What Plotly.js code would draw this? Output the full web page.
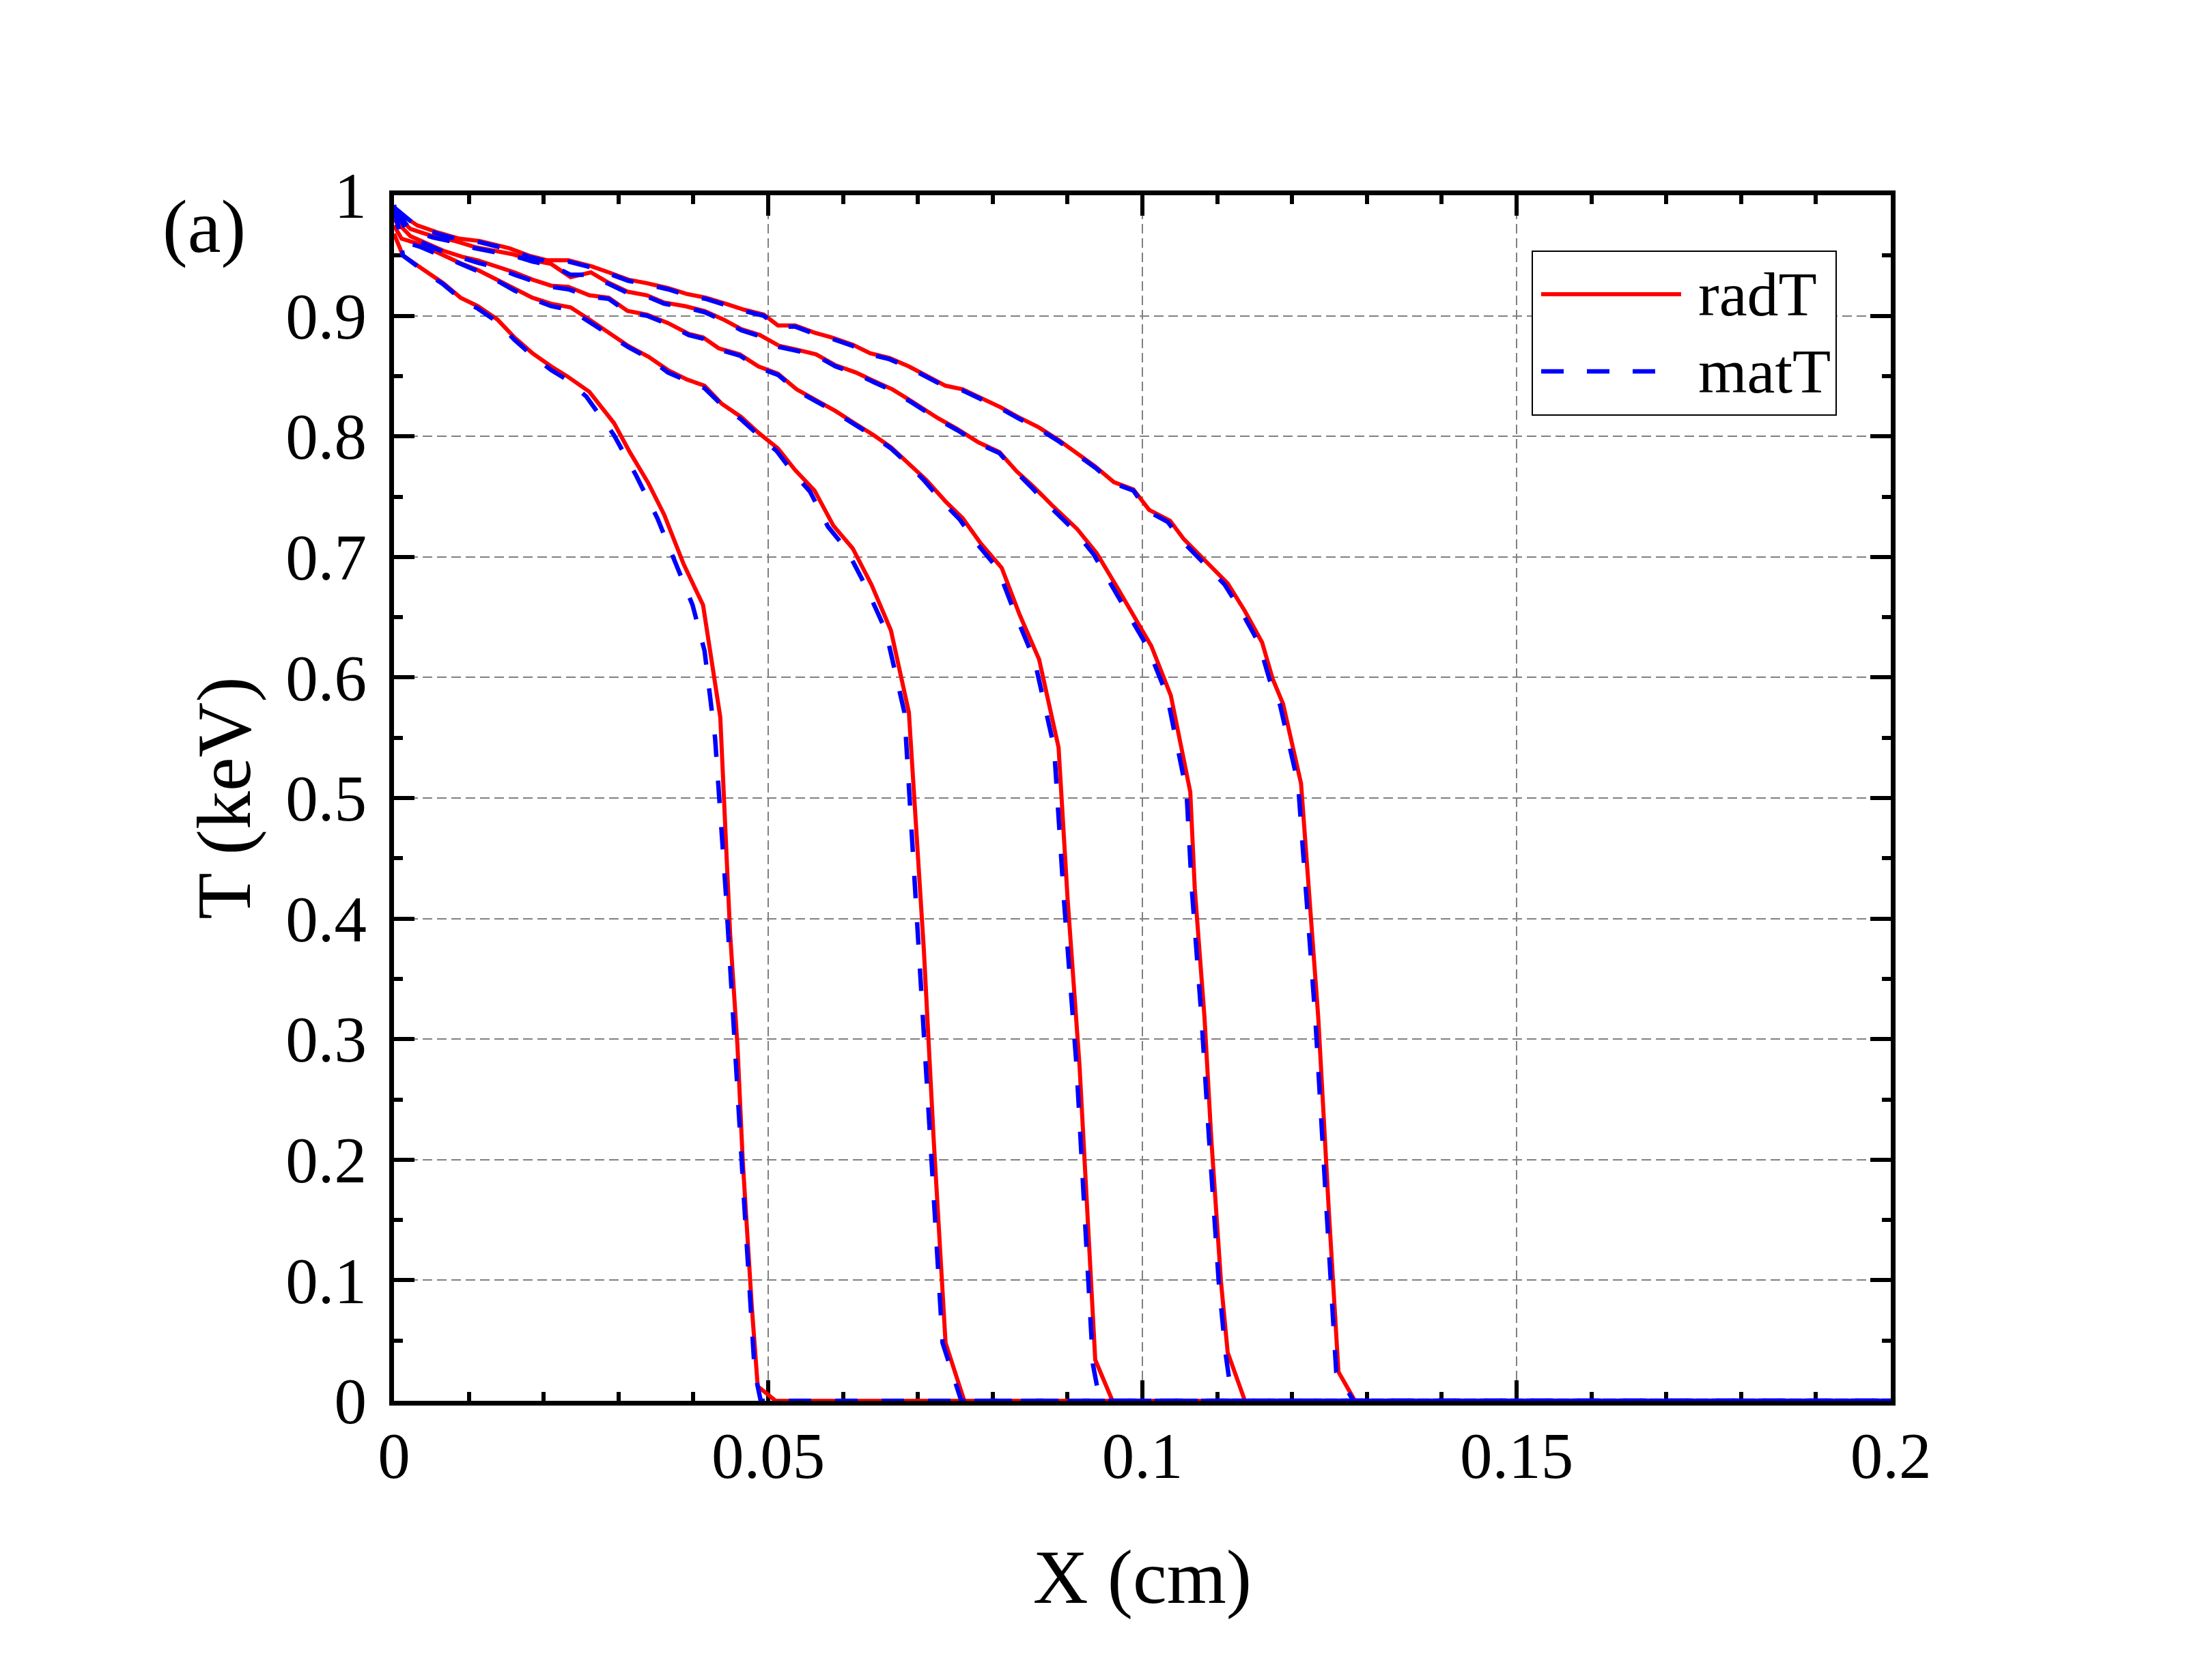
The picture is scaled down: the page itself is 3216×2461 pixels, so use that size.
<!DOCTYPE html>
<html>
<head>
<meta charset="utf-8">
<script src="https://cdn.plot.ly/plotly-3.0.1.min.js"></script>
<style>html,body{margin:0;padding:0;background:#fff}</style>
</head>
<body>
<div id="chart" style="width:3216px;height:2461px"></div>
<script>
// ---- data (X in cm, T in keV) ----
var x1r = [0, 0.0012, 0.0040, 0.0066, 0.0089, 0.0112, 0.0138, 0.0161, 0.0185, 0.0210, 0.0231, 0.0261, 0.0294, 0.0315, 0.0340, 0.0361, 0.0387, 0.0413, 0.0436, 0.0449, 0.0459, 0.0466, 0.0478, 0.0486, 0.0510, 0.2];
var t1r = [0.968, 0.950, 0.938, 0.927, 0.915, 0.908, 0.897, 0.882, 0.869, 0.858, 0.850, 0.837, 0.811, 0.787, 0.761, 0.735, 0.694, 0.660, 0.567, 0.389, 0.294, 0.199, 0.079, 0.012, 0, 0];
var x1m = [0, 0.0012, 0.0040, 0.0066, 0.0089, 0.0112, 0.0138, 0.0161, 0.0185, 0.0210, 0.0231, 0.0257, 0.0294, 0.0324, 0.0352, 0.0375, 0.0399, 0.0415, 0.0429, 0.0443, 0.0456, 0.0468, 0.0482, 0.0490, 0.2];
var t1m = [0.992, 0.950, 0.937, 0.926, 0.914, 0.906, 0.895, 0.880, 0.867, 0.855, 0.847, 0.833, 0.801, 0.767, 0.732, 0.696, 0.660, 0.622, 0.550, 0.425, 0.286, 0.163, 0.024, 0, 0];

var x2r = [0, 0.0010, 0.0036, 0.0063, 0.0091, 0.0112, 0.0138, 0.0161, 0.0185, 0.0210, 0.0236, 0.0261, 0.0287, 0.0313, 0.0340, 0.0366, 0.0392, 0.0415, 0.0438, 0.0464, 0.0487, 0.0513, 0.0536, 0.0562, 0.0587, 0.0613, 0.0638, 0.0664, 0.0688, 0.0699, 0.0708, 0.0721, 0.0732, 0.0737, 0.0762, 0.2];
var t2r = [0.975, 0.964, 0.959, 0.951, 0.943, 0.938, 0.930, 0.923, 0.915, 0.910, 0.907, 0.897, 0.886, 0.875, 0.866, 0.855, 0.847, 0.842, 0.827, 0.816, 0.803, 0.790, 0.772, 0.755, 0.726, 0.707, 0.677, 0.639, 0.571, 0.457, 0.374, 0.218, 0.095, 0.048, 0, 0];
var x2m = [0, 0.0010, 0.0036, 0.0063, 0.0091, 0.0112, 0.0138, 0.0161, 0.0185, 0.0210, 0.0236, 0.0261, 0.0287, 0.0313, 0.0340, 0.0366, 0.0392, 0.0415, 0.0438, 0.0464, 0.0487, 0.0511, 0.0532, 0.0556, 0.0580, 0.0605, 0.0630, 0.0657, 0.0682, 0.0693, 0.0702, 0.0716, 0.0728, 0.0733, 0.0758, 0.2];
var t2m = [0.990, 0.962, 0.957, 0.950, 0.942, 0.937, 0.929, 0.921, 0.914, 0.908, 0.905, 0.895, 0.885, 0.874, 0.865, 0.853, 0.846, 0.840, 0.826, 0.814, 0.801, 0.788, 0.771, 0.754, 0.725, 0.706, 0.676, 0.639, 0.571, 0.457, 0.374, 0.218, 0.095, 0.048, 0, 0];

var x3r = [0, 0.0022, 0.0066, 0.0091, 0.0112, 0.0138, 0.0161, 0.0185, 0.0210, 0.0233, 0.0261, 0.0287, 0.0312, 0.0338, 0.0366, 0.0394, 0.0413, 0.0434, 0.0462, 0.0487, 0.0513, 0.0538, 0.0564, 0.0590, 0.0615, 0.0641, 0.0664, 0.0687, 0.0711, 0.0737, 0.0760, 0.0783, 0.0812, 0.0836, 0.0862, 0.0888, 0.0900, 0.0916, 0.0929, 0.0937, 0.0960, 0.2];
var t3r = [0.980, 0.966, 0.954, 0.949, 0.946, 0.941, 0.936, 0.930, 0.925, 0.924, 0.917, 0.915, 0.904, 0.901, 0.894, 0.885, 0.882, 0.873, 0.868, 0.858, 0.852, 0.839, 0.830, 0.821, 0.811, 0.801, 0.791, 0.778, 0.764, 0.746, 0.732, 0.712, 0.691, 0.652, 0.615, 0.542, 0.417, 0.278, 0.119, 0.034, 0, 0];
var x3m = [0, 0.0022, 0.0066, 0.0091, 0.0112, 0.0138, 0.0161, 0.0185, 0.0210, 0.0233, 0.0261, 0.0287, 0.0312, 0.0338, 0.0366, 0.0394, 0.0413, 0.0434, 0.0462, 0.0487, 0.0513, 0.0538, 0.0564, 0.0590, 0.0615, 0.0641, 0.0664, 0.0687, 0.0709, 0.0734, 0.0756, 0.0779, 0.0807, 0.0831, 0.0856, 0.0882, 0.0895, 0.0912, 0.0926, 0.0934, 0.0943, 0.2];
var t3m = [0.990, 0.965, 0.953, 0.948, 0.944, 0.940, 0.934, 0.929, 0.924, 0.922, 0.916, 0.914, 0.903, 0.900, 0.893, 0.884, 0.881, 0.872, 0.867, 0.857, 0.851, 0.838, 0.829, 0.820, 0.810, 0.800, 0.790, 0.777, 0.763, 0.745, 0.731, 0.711, 0.690, 0.651, 0.614, 0.542, 0.417, 0.278, 0.119, 0.030, 0, 0];

var x4r = [0, 0.0022, 0.0052, 0.0082, 0.0108, 0.0135, 0.0159, 0.0185, 0.0210, 0.0236, 0.0263, 0.0285, 0.0312, 0.0338, 0.0361, 0.0389, 0.0415, 0.0440, 0.0464, 0.0489, 0.0515, 0.0538, 0.0564, 0.0590, 0.0617, 0.0641, 0.0666, 0.0692, 0.0727, 0.0753, 0.0781, 0.0809, 0.0832, 0.0855, 0.0879, 0.0913, 0.0939, 0.0967, 0.0990, 0.1012, 0.1038, 0.1064, 0.1070, 0.1083, 0.1092, 0.1105, 0.1114, 0.1137, 0.2];
var t4r = [0.985, 0.972, 0.966, 0.962, 0.957, 0.954, 0.951, 0.946, 0.943, 0.932, 0.936, 0.928, 0.920, 0.917, 0.911, 0.908, 0.904, 0.897, 0.889, 0.884, 0.875, 0.872, 0.868, 0.859, 0.853, 0.846, 0.839, 0.829, 0.815, 0.806, 0.795, 0.787, 0.771, 0.758, 0.743, 0.723, 0.703, 0.674, 0.650, 0.626, 0.585, 0.505, 0.425, 0.318, 0.218, 0.099, 0.040, 0, 0];
var x4m = [0, 0.0022, 0.0052, 0.0082, 0.0108, 0.0135, 0.0159, 0.0185, 0.0210, 0.0236, 0.0263, 0.0285, 0.0312, 0.0338, 0.0361, 0.0389, 0.0415, 0.0440, 0.0464, 0.0489, 0.0515, 0.0538, 0.0564, 0.0590, 0.0617, 0.0641, 0.0666, 0.0692, 0.0727, 0.0753, 0.0781, 0.0809, 0.0832, 0.0853, 0.0876, 0.0909, 0.0935, 0.0962, 0.0985, 0.1007, 0.1033, 0.1059, 0.1066, 0.1079, 0.1089, 0.1102, 0.1111, 0.1120, 0.2];
var t4m = [0.990, 0.971, 0.965, 0.961, 0.956, 0.953, 0.950, 0.945, 0.942, 0.934, 0.934, 0.927, 0.919, 0.916, 0.910, 0.907, 0.903, 0.896, 0.888, 0.883, 0.874, 0.871, 0.867, 0.858, 0.852, 0.845, 0.838, 0.828, 0.814, 0.805, 0.794, 0.786, 0.770, 0.757, 0.742, 0.722, 0.702, 0.673, 0.649, 0.625, 0.585, 0.505, 0.425, 0.318, 0.218, 0.099, 0.040, 0, 0];

var x5r = [0, 0.0031, 0.0059, 0.0087, 0.0115, 0.0154, 0.0180, 0.0205, 0.0233, 0.0264, 0.0287, 0.0313, 0.0338, 0.0366, 0.0392, 0.0417, 0.0443, 0.0468, 0.0494, 0.0513, 0.0536, 0.0562, 0.0585, 0.0613, 0.0636, 0.0662, 0.0688, 0.0713, 0.0737, 0.0760, 0.0785, 0.0811, 0.0834, 0.0860, 0.0888, 0.0911, 0.0937, 0.0962, 0.0988, 0.1009, 0.1037, 0.1055, 0.1079, 0.1114, 0.1137, 0.1160, 0.1174, 0.1188, 0.1212, 0.1227, 0.1235, 0.1249, 0.1262, 0.1284, 0.2];
var t5r = [0.988, 0.975, 0.969, 0.964, 0.962, 0.956, 0.950, 0.946, 0.946, 0.941, 0.936, 0.930, 0.927, 0.923, 0.918, 0.915, 0.910, 0.905, 0.901, 0.892, 0.892, 0.886, 0.882, 0.876, 0.869, 0.865, 0.858, 0.850, 0.842, 0.839, 0.832, 0.824, 0.816, 0.808, 0.797, 0.787, 0.775, 0.762, 0.756, 0.739, 0.730, 0.715, 0.700, 0.678, 0.655, 0.629, 0.599, 0.578, 0.512, 0.385, 0.318, 0.159, 0.024, 0, 0];
var x5m = [0, 0.0031, 0.0059, 0.0087, 0.0115, 0.0154, 0.0180, 0.0205, 0.0233, 0.0264, 0.0287, 0.0313, 0.0338, 0.0366, 0.0392, 0.0417, 0.0443, 0.0468, 0.0494, 0.0513, 0.0536, 0.0562, 0.0585, 0.0613, 0.0636, 0.0662, 0.0688, 0.0713, 0.0737, 0.0760, 0.0785, 0.0811, 0.0834, 0.0860, 0.0888, 0.0911, 0.0937, 0.0962, 0.0988, 0.1007, 0.1034, 0.1052, 0.1076, 0.1110, 0.1133, 0.1156, 0.1170, 0.1184, 0.1208, 0.1223, 0.1231, 0.1246, 0.1259, 0.1282, 0.2];
var t5m = [0.990, 0.974, 0.968, 0.963, 0.961, 0.955, 0.949, 0.945, 0.945, 0.940, 0.935, 0.929, 0.926, 0.922, 0.917, 0.914, 0.909, 0.904, 0.900, 0.891, 0.891, 0.885, 0.881, 0.875, 0.868, 0.864, 0.857, 0.849, 0.841, 0.838, 0.831, 0.823, 0.815, 0.807, 0.796, 0.786, 0.774, 0.761, 0.755, 0.738, 0.729, 0.714, 0.699, 0.677, 0.654, 0.628, 0.598, 0.577, 0.512, 0.385, 0.318, 0.159, 0.024, 0, 0];

var seriesNames = ['radT', 'matT'];
var xTitle = 'X (cm)';
var yTitle = 'T (keV)';
var panelLabel = '(a)';

// ---- styling ----
var RED = '#ff0000', BLUE = '#0000ff';
var FONT = 'Liberation Serif, "Times New Roman", Times, serif';
var W = 3216, H = 2461, PL = 577, PR = 2769, PT = 286, PB = 2052;
var PW = PR - PL, PH = PB - PT;
function px(x) { return (x - PL) / PW; }
function py(y) { return (PB - y) / PH; }

var radSets = [[x1r, t1r], [x2r, t2r], [x3r, t3r], [x4r, t4r], [x5r, t5r]];
var matSets = [[x1m, t1m], [x2m, t2m], [x3m, t3m], [x4m, t4m], [x5m, t5m]];

var traces = [];
radSets.forEach(function (s) {
  traces.push({x: s[0], y: s[1], type: 'scatter', mode: 'lines', name: seriesNames[0],
    showlegend: false, line: {color: RED, width: 6}, hoverinfo: 'skip'});
});
matSets.forEach(function (s) {
  traces.push({x: s[0], y: s[1], type: 'scatter', mode: 'lines', name: seriesNames[1],
    showlegend: false, line: {color: BLUE, width: 6.5, dash: '33px,35px'}, hoverinfo: 'skip'});
});

var axisCommon = {
  ticks: 'inside', ticklen: 30, tickwidth: 6, tickcolor: '#000',
  showline: true, linewidth: 7, linecolor: '#000', mirror: 'ticks',
  layer: 'below traces', zeroline: false,
  showgrid: true, gridcolor: '#808080', gridwidth: 2, griddash: '14px,7px',
  tickfont: {family: FONT, size: 95, color: '#000'}
};

var layout = {
  width: W, height: H,
  margin: {l: PL, r: W - PR, t: PT, b: H - PB, pad: 0},
  paper_bgcolor: '#fff', plot_bgcolor: '#fff',
  font: {family: FONT, color: '#000', size: 95},
  showlegend: false,
  xaxis: Object.assign({}, axisCommon, {
    range: [0, 0.2], tick0: 0, dtick: 0.05,
    minor: {dtick: 0.01, ticks: 'inside', ticklen: 13, tickwidth: 6, tickcolor: '#000', showgrid: false},
    ticklabelstandoff: -8,
    title: {text: xTitle, font: {family: FONT, size: 112, color: '#000'}, standoff: 87}
  }),
  yaxis: Object.assign({}, axisCommon, {
    range: [0, 1], tick0: 0, dtick: 0.1,
    minor: {dtick: 0.05, ticks: 'inside', ticklen: 13, tickwidth: 6, tickcolor: '#000', showgrid: false},
    ticklabelstandoff: 14,
    title: {text: yTitle, font: {family: FONT, size: 112, color: '#000'}, standoff: 17}
  }),
  annotations: [
    {xref: 'paper', yref: 'paper', x: px(299), y: py(332), text: panelLabel, showarrow: false,
     xanchor: 'center', yanchor: 'middle', font: {family: FONT, size: 110, color: '#000'}},
    {xref: 'paper', yref: 'paper', x: px(2485), y: py(431), text: seriesNames[0], showarrow: false,
     xanchor: 'left', yanchor: 'middle', font: {family: FONT, size: 92, color: '#000'}},
    {xref: 'paper', yref: 'paper', x: px(2485), y: py(544), text: seriesNames[1], showarrow: false,
     xanchor: 'left', yanchor: 'middle', font: {family: FONT, size: 92, color: '#000'}}
  ],
  shapes: [
    {type: 'rect', xref: 'paper', yref: 'paper', x0: px(2244), x1: px(2689), y0: py(608), y1: py(368),
     line: {color: '#000', width: 2}, fillcolor: '#fff', layer: 'above'},
    {type: 'line', xref: 'paper', yref: 'paper', x0: px(2257), x1: px(2462), y0: py(431), y1: py(431),
     line: {color: RED, width: 6}},
    {type: 'line', xref: 'paper', yref: 'paper', x0: px(2257), x1: px(2424), y0: py(544), y1: py(544),
     line: {color: BLUE, width: 6.5, dash: '33px,34px'}}
  ]
};

Plotly.newPlot('chart', traces, layout, {displayModeBar: false, staticPlot: true});
</script>
</body>
</html>
